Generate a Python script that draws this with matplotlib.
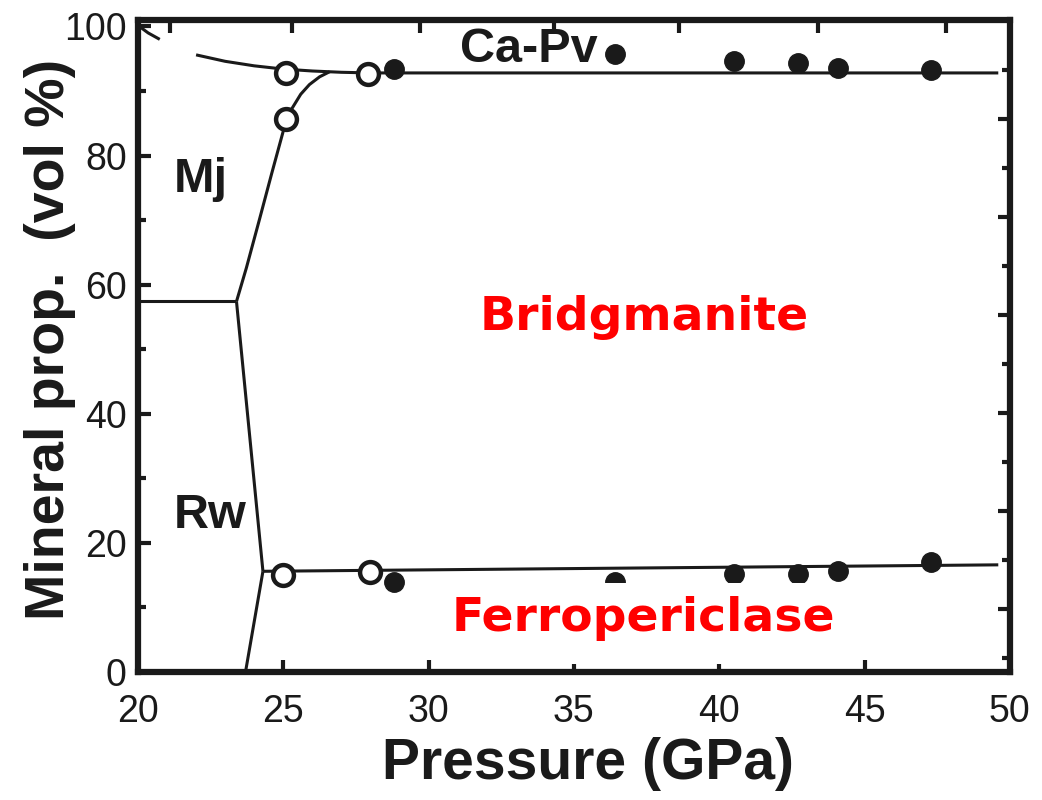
import matplotlib
matplotlib.use("Agg")
import matplotlib.pyplot as plt
from matplotlib.ticker import MultipleLocator, NullFormatter
from matplotlib.patches import Rectangle

# ---------------- data ----------------
# phase boundaries (Pressure GPa, vol %)
capv_bdg_p = [22.0, 23.0, 24.0, 25.0, 26.0, 27.0, 28.0, 30.0, 35.0, 40.0, 45.0, 49.6]
capv_bdg_v = [95.6, 94.6, 93.9, 93.4, 93.1, 92.9, 92.8, 92.8, 92.8, 92.8, 92.8, 92.8]

mj_bdg_p = [23.39, 23.73, 24.18, 24.6, 25.03, 25.3, 25.6, 25.9, 26.25, 26.6]
mj_bdg_v = [57.4, 62.6, 70.1, 77.2, 84.3, 87.3, 89.5, 91.0, 92.2, 93.0]

mj_rw_p = [20.0, 23.39]
mj_rw_v = [57.4, 57.4]

rw_bdg_p = [23.39, 24.3]
rw_bdg_v = [57.4, 15.6]

rw_fp_p = [24.3, 23.7]
rw_fp_v = [15.6, 0.0]

bdg_fp_p = [24.3, 49.6]
bdg_fp_v = [15.6, 16.6]

corner_p = [20.05, 20.35, 20.75]
corner_v = [100.0, 99.0, 98.0]

# measured points
open_upper_p = [25.1, 27.9, 25.1]
open_upper_v = [92.8, 92.6, 85.7]
open_lower_p = [25.0, 28.0]
open_lower_v = [15.0, 15.5]

filled_upper_p = [28.8, 36.4, 40.5, 42.7, 44.1, 47.3]
filled_upper_v = [93.4, 95.7, 94.7, 94.4, 93.5, 93.3]
filled_lower_p = [28.8, 36.4, 40.5, 42.7, 44.1, 47.3]
filled_lower_v = [14.0, 13.9, 15.2, 15.2, 15.7, 17.0]

x_ticks = [20, 25, 30, 35, 40, 45, 50]
y_ticks = [0, 20, 40, 60, 80, 100]
top_ticks = [21.1, 25.3, 29.7, 34.3, 38.6, 43.4, 47.8]
right_major = [85.7, 70.5, 55.3, 40.1, 24.9, 9.7]
right_minor = [93.3, 78.1, 62.9, 47.7, 32.5, 17.3, 2.1]

# ---------------- figure ----------------
INK = "#1a1a1a"
SANS = ["Liberation Sans", "DejaVu Sans"]
fig = plt.figure(figsize=(10.42, 8), dpi=100)
ax = fig.add_axes([0.1324, 0.16, 0.8368, 0.815])

lw = 2.2
for px, vy in [(capv_bdg_p, capv_bdg_v), (mj_bdg_p, mj_bdg_v), (mj_rw_p, mj_rw_v),
               (rw_bdg_p, rw_bdg_v), (rw_fp_p, rw_fp_v), (bdg_fp_p, bdg_fp_v),
               (corner_p, corner_v)]:
    ax.plot(px, vy, color=INK, lw=lw, solid_capstyle="butt", solid_joinstyle="round", zorder=2)

ax.plot(filled_upper_p, filled_upper_v, "o", ms=14, color=INK, zorder=3)
ax.plot(filled_lower_p, filled_lower_v, "o", ms=14, color=INK, zorder=3)
ax.plot(open_upper_p, open_upper_v, "o", ms=15, mfc="white", mec=INK, mew=3.2, zorder=4)
ax.plot(open_lower_p, open_lower_v, "o", ms=15, mfc="white", mec=INK, mew=3.2, zorder=4)

ax.set_xlim(20, 50)
ax.set_ylim(0, 101)

# white panel behind the Ferropericlase label (hides part of the markers)
ax.add_patch(Rectangle((0.345, 0.012), 0.43, 0.125, transform=ax.transAxes,
                       facecolor="white", edgecolor="none", zorder=5))

# labels inside
blk = dict(family=SANS, fontweight="bold", color=INK)
ax.text(33.46, 96.5, "Ca-Pv", fontsize=35, ha="center", va="center", zorder=6, **blk)
ax.text(22.15, 76.3, "Mj", fontsize=35, ha="center", va="center", **blk)
ax.text(22.5, 24.3, "Rw", fontsize=35, ha="center", va="center", **blk)

red = dict(family="DejaVu Sans", fontweight="bold", color="#ff0000")
ax.text(37.4, 54.9, "Bridgmanite", fontsize=34, ha="center", va="center", **red)
ax.text(37.4, 8.3, "Ferropericlase", fontsize=34, ha="center", va="center", zorder=6, **red)

# axes labels
ax.set_xlabel("Pressure (GPa)", fontsize=41, fontweight="bold", family=SANS, color=INK)
ax.set_ylabel("Mineral prop.  (vol %)", fontsize=40, fontweight="bold", family=SANS, color=INK)
ax.xaxis.set_label_coords(0.516, -0.1)
ax.yaxis.set_label_coords(-0.071, 0.51)

# ticks
ax.set_xticks(x_ticks)
ax.set_yticks(y_ticks)
ax.yaxis.set_minor_locator(MultipleLocator(10))
ax.tick_params(axis="both", which="major", direction="in", length=9, width=3,
               labelsize=27, colors=INK)
ax.tick_params(axis="x", which="major", pad=16, top=False)
ax.tick_params(axis="y", which="major", pad=8)
ax.tick_params(axis="y", which="minor", direction="in", length=6, width=3, colors=INK)
for lab in ax.get_xticklabels() + ax.get_yticklabels():
    lab.set_family(SANS)
    lab.set_color(INK)

ax_top = ax.secondary_xaxis("top")
ax_top.set_xticks(top_ticks)
ax_top.xaxis.set_major_formatter(NullFormatter())
ax_top.tick_params(direction="in", length=9, width=3, colors=INK)
ax_top.spines["top"].set_visible(False)

ax_r = ax.secondary_yaxis("right")
ax_r.set_yticks(right_major)
ax_r.set_yticks(right_minor, minor=True)
ax_r.yaxis.set_major_formatter(NullFormatter())
ax_r.yaxis.set_minor_formatter(NullFormatter())
ax_r.tick_params(which="major", direction="in", length=9, width=3, colors=INK)
ax_r.tick_params(which="minor", direction="in", length=6, width=3, colors=INK)
ax_r.spines["right"].set_visible(False)

for s in ax.spines.values():
    s.set_linewidth(4.5)
    s.set_color(INK)
    s.set_zorder(7)

fig.savefig("out.png", dpi=100)
